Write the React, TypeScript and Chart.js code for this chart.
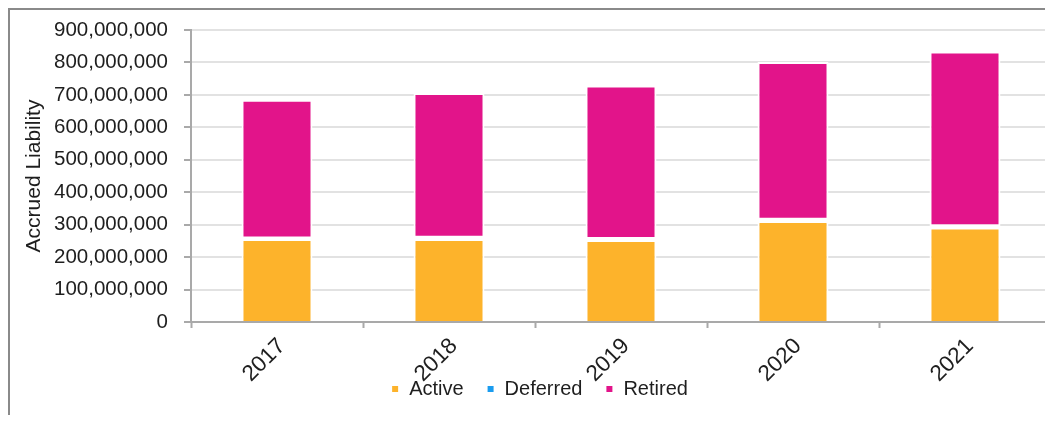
import { useEffect, useRef } from "react";
import { Chart, registerables } from "chart.js";

Chart.register(...registerables);

// Accrued liability by member status, per valuation year
const years = ["2017", "2018", "2019", "2020", "2021"];
const active = [256000000, 256000000, 253000000, 311000000, 291000000];
const deferred = [1000000, 4000000, 3000000, 4000000, 4000000];
const retired = [428000000, 446000000, 473000000, 486000000, 539000000];

const yMax = 900000000;
const yStep = 100000000;

const FONT = "'Liberation Sans', Arial, Helvetica, sans-serif";
const AXIS_GRAY = "#a9a9a9";
const GRID_GRAY = "#e2e2e2";
const TEXT = "#1e1e1e";

// The rotated year labels hang down into the legend band, and the legend
// sits a little right of centre: adjust both once the layout is settled.
const overlapLegend = {
  id: "overlapLegend",
  afterLayout(chart: any) {
    const x = chart.scales.x;
    x.bottom += 60;
    x.height += 60;
    const lg = chart.legend;
    if (lg) {
      lg.left += 9;
      lg.right += 9;
    }
  },
};

export default function App() {
  const canvasRef = useRef<HTMLCanvasElement | null>(null);

  useEffect(() => {
    document.documentElement.style.overflow = "hidden";
    document.body.style.overflow = "hidden";
    const canvas = canvasRef.current;
    if (!canvas) return;

    const segment = {
      borderColor: "#ffffff",
      borderWidth: 2,
      barPercentage: 0.413,
      categoryPercentage: 1,
    };

    const chart = new Chart(canvas, {
      type: "bar",
      data: {
        labels: years,
        datasets: [
          { label: "Active", data: active, backgroundColor: "#FDB32B", borderSkipped: "start", ...segment },
          { label: "Deferred", data: deferred, backgroundColor: "#1A9CEF", borderSkipped: false, ...segment },
          { label: "Retired", data: retired, backgroundColor: "#E2148A", borderSkipped: false, ...segment },
        ],
      },
      plugins: [overlapLegend],
      options: {
        responsive: false,
        animation: false,
        layout: { padding: { top: 20, right: 2, left: 0, bottom: 14 } },
        font: { family: FONT },
        plugins: {
          tooltip: { enabled: false },
          legend: {
            position: "bottom",
            labels: {
              font: { family: FONT, size: 20 },
              color: TEXT,
              boxWidth: 8,
              boxHeight: 8,
              padding: 23,
            },
          },
        },
        scales: {
          x: {
            stacked: true,
            afterFit: (scale: any) => {
              scale.height = 34;
            },
            grid: {
              offset: true,
              drawOnChartArea: false,
              drawTicks: true,
              tickLength: 6,
              tickColor: AXIS_GRAY,
              tickWidth: 2,
            },
            border: { color: AXIS_GRAY, width: 2 },
            ticks: {
              minRotation: 45,
              maxRotation: 45,
              padding: 5,
              labelOffset: 5,
              color: TEXT,
              font: { family: FONT, size: 22.5 },
            },
          },
          y: {
            stacked: true,
            min: 0,
            max: yMax,
            afterFit: (scale: any) => {
              scale.width = 181;
              scale.paddingTop = 0;
              scale.paddingBottom = 0;
            },
            grid: {
              color: GRID_GRAY,
              lineWidth: 2,
              drawTicks: true,
              tickLength: 7,
              tickColor: AXIS_GRAY,
              tickWidth: 2,
            },
            border: { color: AXIS_GRAY, width: 2 },
            ticks: {
              stepSize: yStep,
              padding: 16,
              color: TEXT,
              font: { family: FONT, size: 20.5 },
              callback: (v: any) => Number(v).toLocaleString("en-US"),
            },
            title: {
              display: true,
              text: "Accrued Liability",
              color: TEXT,
              font: { family: FONT, size: 21 },
              padding: { top: 12, bottom: 0 },
            },
          },
        },
      },
    });

    return () => chart.destroy();
  }, []);

  return (
    <div
      style={{
        borderTop: "2px solid #8a8a8a",
        borderLeft: "2px solid #8a8a8a",
        width: 1043,
        height: 405,
        overflow: "hidden",
      }}
    >
      <canvas ref={canvasRef} width={1043} height={413} style={{ display: "block" }} />
    </div>
  );
}
